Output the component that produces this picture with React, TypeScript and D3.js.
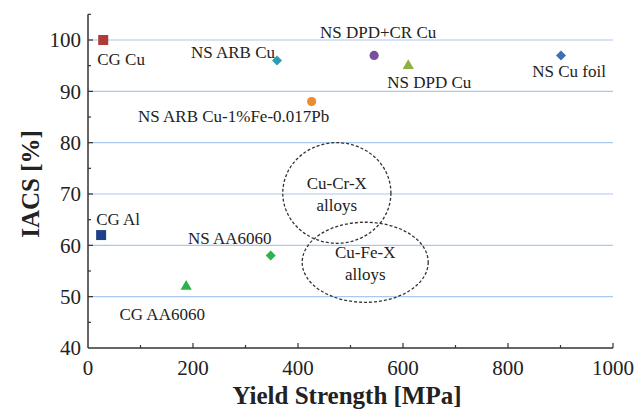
import React, { useEffect, useRef } from 'react';
import * as d3 from 'd3';

// materials: yield strength [MPa], IACS [%]
const names = ['CG Cu', 'NS ARB Cu', 'NS ARB Cu-1%Fe-0.017Pb', 'NS DPD+CR Cu', 'NS DPD Cu', 'NS Cu foil', 'CG Al', 'NS AA6060', 'CG AA6060'];
const strength = [29, 360, 426, 545, 610, 901, 25, 348, 187];
const iacs = [100, 96, 88, 97, 95, 97, 62, 58, 52];
const shapes = ['square', 'diamond', 'circle', 'circle', 'triangle', 'diamond', 'square', 'diamond', 'triangle'];
const colors = ['#b23a3a', '#2b9cb3', '#ec8c30', '#7a4e9e', '#8db03e', '#3a70b8', '#1f3f88', '#2eb34c', '#2eb34c'];

// label offsets in px from the marker: [dx, dy, anchor]
const labelOffsets: [number, number, string][] = [
  [-6, 19, 'start'],
  [-2, -8, 'end'],
  [-78, 14, 'middle'],
  [4, -23, 'middle'],
  [21, 16, 'middle'],
  [8, 16, 'middle'],
  [-5, -16, 'start'],
  [-41, -18, 'middle'],
  [-24, 28, 'middle'],
];

// alloy regions: centre (MPa, %), radii (MPa, %)
const regionNames = [['Cu-Cr-X', 'alloys'], ['Cu-Fe-X', 'alloys']];
const regionCx = [474, 528];
const regionCy = [70.2, 56.7];
const regionRx = [103, 120];
const regionRy = [9.8, 7.8];

const xTicks = [0, 200, 400, 600, 800, 1000];
const yTicks = [40, 50, 60, 70, 80, 90, 100];

const FONT = '"Liberation Serif", "Times New Roman", serif';

export default function App() {
  const ref = useRef<SVGSVGElement>(null);

  useEffect(() => {
    const W = 640, H = 412;
    const svg = d3.select(ref.current).attr('width', W).attr('height', H);
    svg.selectAll('*').remove();

    const x = d3.scaleLinear().domain([0, 1000]).range([88, 613]);
    const y = d3.scaleLinear().domain([40, 100]).range([348, 40]);

    const g = svg.append('g').style('font-family', FONT);

    // grid
    g.selectAll('line.grid')
      .data(yTicks.filter(t => t > 40))
      .enter().append('line')
      .attr('x1', x(0)).attr('x2', x(1000))
      .attr('y1', d => y(d)).attr('y2', d => y(d))
      .attr('stroke', '#a9c9ee').attr('stroke-width', 1.2);

    // axes
    g.append('line').attr('x1', x(0)).attr('x2', x(0)).attr('y1', y(105)).attr('y2', y(40))
      .attr('stroke', '#333').attr('stroke-width', 1.5);
    g.append('line').attr('x1', x(0)).attr('x2', x(1000)).attr('y1', y(40)).attr('y2', y(40))
      .attr('stroke', '#333').attr('stroke-width', 1.5);

    const xMinor = d3.range(100, 1001, 100);
    g.selectAll('line.xt').data(xMinor).enter().append('line')
      .attr('x1', d => x(d)).attr('x2', d => x(d))
      .attr('y1', y(40)).attr('y2', d => y(40) - (d % 200 === 0 ? 5 : 3))
      .attr('stroke', '#333').attr('stroke-width', 1.2);
    const yMinor = d3.range(45, 106, 5);
    g.selectAll('line.yt').data(yMinor).enter().append('line')
      .attr('y1', d => y(d)).attr('y2', d => y(d))
      .attr('x1', x(0)).attr('x2', d => x(0) + (d % 10 === 0 ? 5 : 3))
      .attr('stroke', '#333').attr('stroke-width', 1.2);

    g.selectAll('text.xl').data(xTicks).enter().append('text')
      .attr('x', d => x(d)).attr('y', y(40) + 27)
      .attr('text-anchor', 'middle').attr('font-size', 21).attr('fill', '#222')
      .text(d => d);
    g.selectAll('text.yl').data(yTicks).enter().append('text')
      .attr('x', x(0) - 7).attr('y', d => y(d)).attr('dy', '0.35em')
      .attr('text-anchor', 'end').attr('font-size', 21).attr('fill', '#222')
      .text(d => d);

    g.append('text').attr('x', 347).attr('y', 404)
      .attr('text-anchor', 'middle').attr('font-size', 25).attr('font-weight', 'bold').attr('fill', '#222')
      .text('Yield Strength [MPa]');
    g.append('text').attr('transform', 'translate(39,184) rotate(-90)')
      .attr('text-anchor', 'middle').attr('font-size', 25).attr('font-weight', 'bold').attr('fill', '#222')
      .text('IACS [%]');

    // regions
    regionNames.forEach((lines, i) => {
      const cx = x(regionCx[i]), cy = y(regionCy[i]);
      g.append('ellipse')
        .attr('cx', cx).attr('cy', cy)
        .attr('rx', x(regionRx[i]) - x(0)).attr('ry', y(0) - y(regionRy[i]))
        .attr('fill', 'none').attr('stroke', '#333').attr('stroke-width', 1.3)
        .attr('stroke-dasharray', '3,2');
      lines.forEach((t, j) => {
        g.append('text').attr('x', cx).attr('y', cy + (j === 0 ? -10 : 12)).attr('dy', '0.35em')
          .attr('text-anchor', 'middle').attr('font-size', 17).attr('fill', '#222').text(t);
      });
    });

    // points
    const diamond: d3.SymbolType = {
      draw(ctx, size) {
        const r = Math.sqrt(size / 2);
        ctx.moveTo(0, -r); ctx.lineTo(r, 0); ctx.lineTo(0, r); ctx.lineTo(-r, 0); ctx.closePath();
      },
    };
    const symbolFor: Record<string, [d3.SymbolType, number]> = {
      square: [d3.symbolSquare, 100],
      diamond: [diamond, 50],
      circle: [d3.symbolCircle, 66],
      triangle: [d3.symbolTriangle, 55],
    };
    names.forEach((n, i) => {
      const px = x(strength[i]), py = y(iacs[i]);
      const [type, size] = symbolFor[shapes[i]];
      g.append('path')
        .attr('d', d3.symbol().type(type).size(size)())
        .attr('transform', `translate(${px},${py})`)
        .attr('fill', colors[i]);
      const [dx, dy, anchor] = labelOffsets[i];
      g.append('text').attr('x', px + dx).attr('y', py + dy).attr('dy', '0.35em')
        .attr('text-anchor', anchor).attr('font-size', 17).attr('fill', '#222').text(n);
    });
  }, []);

  return (
    <svg ref={ref} style={{ position: 'absolute', left: 0, top: 0, background: '#fff' }} />
  );
}
